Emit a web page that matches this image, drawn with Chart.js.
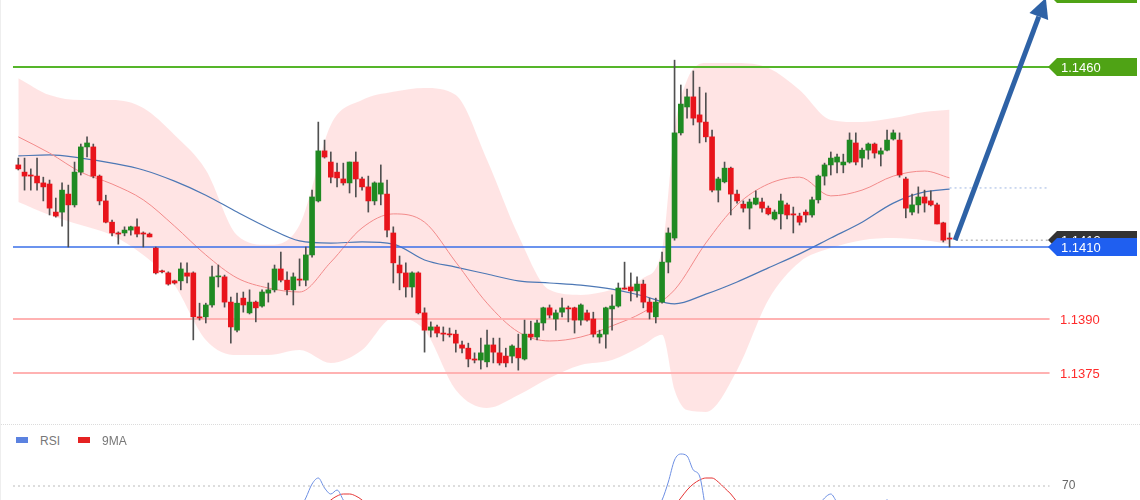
<!DOCTYPE html>
<html>
<head>
<meta charset="utf-8">
<script src="https://cdn.jsdelivr.net/npm/chart.js@4.4.1/dist/chart.umd.min.js"></script>
<style>
  html, body { margin: 0; padding: 0; background: #fff; }
  #wrap { position: relative; width: 1140px; height: 500px; overflow: hidden; font-family: "Liberation Sans", Arial, sans-serif; }
  #mainBox { position: absolute; left: 0; top: 0; width: 1140px; height: 425px; }
  #rsiBox { position: absolute; left: 0; top: 425px; width: 1140px; height: 75px; }
  #sep { position: absolute; left: 0; top: 424px; width: 1140px; border-top: 1px dotted #dcdcdc; }
  #leftEdge { position: absolute; left: 0; top: 0; width: 1px; height: 500px; background: #eeeeee; }
  .legend { position: absolute; top: 434px; font-size: 12px; color: #777; line-height: 14px; }
  .legend i { display: inline-block; width: 12px; height: 6px; margin-right: 12px; vertical-align: 2px; }
</style>
</head>
<body>
<div id="wrap">
  <div id="mainBox"><canvas id="mainChart"></canvas></div>
  <div id="sep"></div>
  <div id="leftEdge"></div>
  <div class="legend" style="left:16px"><i style="background:#5b82e0"></i>RSI</div>
  <div class="legend" style="left:78px"><i style="background:#e52222"></i>9MA</div>
  <div id="rsiBox"><canvas id="rsiChart"></canvas></div>
</div>
<script>
// === EURUSD 走勢圖 (K 線 + 布林通道 + RSI) ===

// K 線資料（共 150 根）
const OPEN = [
  1.14328,1.14308,1.14300,1.14297,1.14278,1.14275,1.14197,1.14197,1.14247,1.14217,
  1.14308,1.14378,1.14378,1.14297,1.14228,1.14169,1.14139,1.14139,1.14147,1.14156,
  1.14139,1.14136,1.14097,1.14033,1.14028,1.14006,1.14006,1.14028,1.14028,1.13906,
  1.13906,1.13939,1.14017,1.14017,1.13947,1.13869,1.13958,1.13917,1.13947,1.13936,
  1.13972,1.13981,1.14039,1.14008,1.13981,1.14011,1.14008,1.14078,1.14228,1.14367,
  1.14336,1.14308,1.14289,1.14278,1.14336,1.14289,1.14267,1.14228,1.14247,1.14247,
  1.14139,1.14050,1.14028,1.13989,1.14028,1.13917,1.13869,1.13878,1.13861,1.13858,
  1.13858,1.13828,1.13819,1.13789,1.13786,1.13781,1.13828,1.13806,1.13797,1.13797,
  1.13819,1.13789,1.13858,1.13850,1.13889,1.13931,1.13900,1.13919,1.13931,1.13931,
  1.13897,1.13917,1.13900,1.13850,1.13858,1.13928,1.13936,1.13986,1.13989,1.13978,
  1.13997,1.13947,1.13906,1.13947,1.14058,1.14125,1.14417,1.14489,1.14517,1.14467,
  1.14447,1.14406,1.14258,1.14281,1.14319,1.14247,1.14219,1.14208,1.14219,1.14225,
  1.14208,1.14178,1.14192,1.14217,1.14192,1.14186,1.14197,1.14189,1.14231,1.14297,
  1.14328,1.14336,1.14328,1.14336,1.14389,1.14347,1.14369,1.14386,1.14358,1.14369,
  1.14400,1.14397,1.14289,1.14197,1.14217,1.14239,1.14228,1.14217,1.14167,1.14125
];
const HIGH = [
  1.14347,1.14347,1.14317,1.14347,1.14294,1.14286,1.14236,1.14278,1.14272,1.14336,
  1.14386,1.14406,1.14386,1.14300,1.14244,1.14175,1.14142,1.14156,1.14158,1.14178,
  1.14142,1.14139,1.14100,1.14036,1.14031,1.14008,1.14056,1.14056,1.14031,1.13944,
  1.13944,1.14047,1.14050,1.14022,1.13961,1.13972,1.13975,1.13981,1.13950,1.13981,
  1.14000,1.14050,1.14086,1.14031,1.14028,1.14067,1.14100,1.14258,1.14447,1.14397,
  1.14364,1.14333,1.14333,1.14336,1.14364,1.14294,1.14297,1.14281,1.14328,1.14286,
  1.14156,1.14075,1.14056,1.14031,1.14031,1.13931,1.13892,1.13883,1.13878,1.13875,
  1.13869,1.13839,1.13833,1.13806,1.13847,1.13869,1.13847,1.13847,1.13819,1.13828,
  1.13858,1.13897,1.13894,1.13897,1.13933,1.13939,1.13925,1.13958,1.13936,1.13933,
  1.13942,1.13925,1.13919,1.13869,1.13933,1.13967,1.14000,1.14058,1.14028,1.14017,
  1.14008,1.13958,1.13958,1.14086,1.14153,1.14619,1.14550,1.14539,1.14589,1.14544,
  1.14528,1.14425,1.14294,1.14336,1.14322,1.14258,1.14228,1.14233,1.14256,1.14236,
  1.14214,1.14203,1.14247,1.14222,1.14211,1.14194,1.14203,1.14239,1.14300,1.14333,
  1.14364,1.14358,1.14358,1.14417,1.14417,1.14375,1.14389,1.14389,1.14375,1.14425,
  1.14425,1.14417,1.14294,1.14247,1.14267,1.14258,1.14256,1.14222,1.14169,1.14139
];
const LOW = [
  1.14314,1.14258,1.14258,1.14258,1.14228,1.14189,1.14183,1.14158,1.14100,1.14211,
  1.14300,1.14350,1.14292,1.14217,1.14167,1.14131,1.14108,1.14131,1.14133,1.14128,
  1.14100,1.14128,1.14025,1.14028,1.13994,1.13997,1.13981,1.14000,1.13842,1.13897,
  1.13889,1.13933,1.13989,1.13933,1.13833,1.13864,1.13919,1.13914,1.13892,1.13933,
  1.13947,1.13975,1.14003,1.13967,1.13939,1.13992,1.13992,1.14072,1.14225,1.14347,
  1.14278,1.14267,1.14272,1.14250,1.14239,1.14258,1.14197,1.14217,1.14217,1.14128,
  1.14000,1.13981,1.13961,1.13961,1.13914,1.13808,1.13850,1.13850,1.13839,1.13850,
  1.13808,1.13806,1.13767,1.13778,1.13761,1.13767,1.13778,1.13772,1.13767,1.13778,
  1.13758,1.13786,1.13842,1.13842,1.13869,1.13903,1.13869,1.13906,1.13892,1.13861,
  1.13883,1.13894,1.13850,1.13833,1.13819,1.13869,1.13933,1.13983,1.13950,1.13961,
  1.13931,1.13900,1.13889,1.13944,1.14028,1.14119,1.14411,1.14458,1.14439,1.14389,
  1.14392,1.14253,1.14225,1.14278,1.14189,1.14222,1.14197,1.14150,1.14217,1.14197,
  1.14189,1.14175,1.14150,1.14178,1.14139,1.14161,1.14169,1.14183,1.14222,1.14272,
  1.14300,1.14306,1.14306,1.14333,1.14328,1.14322,1.14344,1.14347,1.14325,1.14367,
  1.14397,1.14294,1.14181,1.14189,1.14194,1.14197,1.14214,1.14164,1.14114,1.14100
];
const CLOSE = [
  1.14317,1.14297,1.14297,1.14278,1.14267,1.14208,1.14186,1.14258,1.14217,1.14308,
  1.14378,1.14389,1.14297,1.14228,1.14169,1.14139,1.14136,1.14147,1.14156,1.14136,
  1.14136,1.14128,1.14028,1.14031,1.13997,1.14000,1.14039,1.14019,1.13906,1.13903,
  1.13939,1.14017,1.14019,1.13947,1.13878,1.13944,1.13939,1.13947,1.13931,1.13975,
  1.13981,1.14039,1.14008,1.13981,1.14017,1.14008,1.14078,1.14239,1.14367,1.14350,
  1.14294,1.14292,1.14278,1.14336,1.14289,1.14267,1.14228,1.14278,1.14278,1.14147,
  1.14056,1.14028,1.13989,1.14028,1.13917,1.13869,1.13878,1.13861,1.13858,1.13856,
  1.13833,1.13819,1.13789,1.13786,1.13806,1.13828,1.13808,1.13778,1.13778,1.13825,
  1.13792,1.13858,1.13850,1.13889,1.13931,1.13911,1.13917,1.13931,1.13928,1.13897,
  1.13939,1.13897,1.13858,1.13858,1.13931,1.13936,1.13986,1.13983,1.13978,1.13997,
  1.13947,1.13919,1.13947,1.14058,1.14139,1.14417,1.14497,1.14517,1.14458,1.14447,
  1.14406,1.14258,1.14289,1.14319,1.14247,1.14228,1.14208,1.14225,1.14236,1.14208,
  1.14192,1.14197,1.14228,1.14189,1.14189,1.14169,1.14189,1.14231,1.14297,1.14328,
  1.14347,1.14350,1.14336,1.14397,1.14336,1.14369,1.14386,1.14361,1.14367,1.14397,
  1.14417,1.14300,1.14208,1.14217,1.14239,1.14222,1.14217,1.14164,1.14119,1.14122
];

// 均線（從圖上讀取的取樣點，x = 第幾根 K 線）
const MA_X = [1,6,11,16,21,26,31,36,41,46,51,56,61,66,71,76,81,86,91,96,101,106,111,116,121,126,131,136,141,146,150];
const MA_FAST = [
  1.14406,1.14361,1.14308,1.14275,1.14231,1.14158,1.14078,1.14014,1.13986,1.13975,
  1.14058,1.14153,1.14192,1.14169,1.14058,1.13944,1.13864,1.13839,1.13850,1.13881,
  1.13919,1.13981,1.14111,1.14217,1.14275,1.14294,1.14242,1.14258,1.14297,1.14311,1.14292
];
const MA_SLOW = [
  1.14353,1.14356,1.14347,1.14333,1.14314,1.14283,1.14244,1.14197,1.14153,1.14117,
  1.14111,1.14114,1.14108,1.14064,1.14044,1.14025,1.14006,1.14000,1.13994,1.13983,
  1.13964,1.13942,1.13969,1.14003,1.14042,1.14081,1.14125,1.14169,1.14222,1.14253,1.14261
];

// 布林通道上下軌
const BAND_X = [1,6,11,16,21,26,31,36,41,46,51,56,61,66,71,76,81,86,91,96,101,104,106,108,111,116,121,126,131,136,141,146,150];
const BAND_UP = [
  1.14569,1.14522,1.14508,1.14508,1.14486,1.14411,1.14314,1.14133,1.14106,1.14161,
  1.14439,1.14508,1.14531,1.14542,1.14522,1.14342,1.14133,1.13981,1.13967,1.13981,
  1.14014,1.14092,1.14425,1.14564,1.14611,1.14611,1.14597,1.14536,1.14453,1.14447,
  1.14458,1.14475,1.14481
];
const BAND_LO = [
  1.14225,1.14189,1.14161,1.14133,1.14078,1.13994,1.13842,1.13800,1.13800,1.13814,
  1.13778,1.13814,1.13903,1.13869,1.13703,1.13653,1.13689,1.13736,1.13772,1.13786,
  1.13828,1.13856,1.13703,1.13647,1.13642,1.13758,1.13953,1.14058,1.14097,1.14119,
  1.14125,1.14119,1.14108
];

// 支撐 / 壓力價位
const LEVEL_PRICES = [1.1460, 1.1410, 1.1390, 1.1375];
const LEVEL_TEXT = ["1.1460", "1.1410", "1.1390", "1.1375"];
const LEVEL_COLORS = ["#55b52a", "#3a6fe8", "#ffb2b2", "#ffb2b2"];
const LEVEL_X = [0.15, 166];

// 價格標籤（右側）
const TAG_PRICES = [1.14803, 1.1460, 1.14119, 1.1410];
const TAG_TEXT = ["1.1480", "1.1460", "1.1413", "1.1410"];
const TAG_COLORS = ["#4fa315", "#4fa315", "#333333", "#1f5ff0"];

// 最新價虛線 / 慢線延伸虛線
const LAST_X = [151, 165.8];
const LAST_PRICE = 1.14119;
const SLOW_EXT_PRICE = 1.14264;

// 預測箭頭（起點、終點）
const ARROW_X = [150.9, 165.4];
const ARROW_Y = [1.14119, 1.14792];

// RSI 與 9MA（只有高於 63 的部分看得到）
const RSI_X = [46,47,48,49,50,51,52,53,54,  null, 103,104,105,106,107,108,109,110,111, null, 129,130,131,132,133, null, 139,140,141];
const RSI_VAL = [58,64,71,74,69,66,68,63,58, null, 58,63,72,83,86,85,78,75,58, null, 60,64,66,62,60, null, 60,63,60];
const RSI_MA_X = [50,51,52,53,54,55,56,57, null, 106,107,108,109,110,111,112,113,114,115,116,117];
const RSI_MA_VAL = [60,63,65,66,66,65,63,60, null, 60,64,68,71,73,74,74,72,69,66,62,58];
const RSI_LEVEL = 70;

// 座標範圍
const X_MIN = -1.928, X_MAX = 180.47;
const Y_MIN = 1.136056, Y_MAX = 1.147861;

const GREEN = "#1f8a22";
const RED = "#e8141b";

function pts(xs, ys) {
  return xs.map((x, i) => (x === null ? { x: null, y: null } : { x: x, y: ys[i] }));
}

function lineDs(data, color, width, extra) {
  return Object.assign({
    type: "line",
    data: data,
    borderColor: color,
    borderWidth: width,
    pointRadius: 0,
    fill: false,
    tension: 0,
    order: 3
  }, extra || {});
}

// 畫標籤、文字與箭頭
const overlayPlugin = {
  id: "overlay",
  afterDatasetsDraw(chart) {
    const ctx = chart.ctx;
    const xs = chart.scales.x;
    const ys = chart.scales.y;

    // 箭頭
    const x0 = xs.getPixelForValue(ARROW_X[0]), y0 = ys.getPixelForValue(ARROW_Y[0]);
    const x1 = xs.getPixelForValue(ARROW_X[1]), y1 = ys.getPixelForValue(ARROW_Y[1]);
    const ang = Math.atan2(y1 - y0, x1 - x0);
    const headLen = 20, headW = 10;
    const bx = x1 - headLen * Math.cos(ang), by = y1 - headLen * Math.sin(ang);
    ctx.save();
    ctx.strokeStyle = "#2e62a6";
    ctx.fillStyle = "#2e62a6";
    ctx.lineWidth = 5;
    ctx.beginPath();
    ctx.moveTo(x0, y0);
    ctx.lineTo(bx, by);
    ctx.stroke();
    ctx.beginPath();
    ctx.moveTo(x1, y1);
    ctx.lineTo(bx + headW * Math.sin(ang), by - headW * Math.cos(ang));
    ctx.lineTo(bx - headW * Math.sin(ang), by + headW * Math.cos(ang));
    ctx.closePath();
    ctx.fill();

    // 右側價格標籤
    ctx.font = "13px 'Liberation Sans', Arial, sans-serif";
    ctx.textBaseline = "middle";
    TAG_PRICES.forEach((p, i) => {
      const y = Math.round(ys.getPixelForValue(p));
      ctx.fillStyle = TAG_COLORS[i];
      ctx.beginPath();
      ctx.moveTo(1048, y);
      ctx.lineTo(1057, y - 9);
      ctx.lineTo(1137, y - 9);
      ctx.lineTo(1137, y + 9);
      ctx.lineTo(1057, y + 9);
      ctx.closePath();
      ctx.fill();
      ctx.fillStyle = "#ffffff";
      ctx.fillText(TAG_TEXT[i], 1061, y + 1);
    });

    // 紅色支撐價位文字
    ctx.fillStyle = "#ff2b2b";
    [2, 3].forEach((i) => {
      ctx.fillText(LEVEL_TEXT[i], 1060, ys.getPixelForValue(LEVEL_PRICES[i]) + 1);
    });
    ctx.restore();
  }
};

function initMainChart() {
  const idx = OPEN.map((_, i) => i + 1);
  const bodyColors = OPEN.map((o, i) => (CLOSE[i] >= o ? GREEN : RED));

  const datasets = [
    // K 線實體
    {
      type: "bar",
      data: idx.map((x, i) => ({ x: x, y: [OPEN[i], CLOSE[i]] })),
      backgroundColor: bodyColors,
      barThickness: 5,
      minBarLength: 1,
      grouped: false,
      order: 0
    },
    // K 線影線
    {
      type: "bar",
      data: idx.map((x, i) => ({ x: x, y: [LOW[i], HIGH[i]] })),
      backgroundColor: "#505050",
      barThickness: 1,
      grouped: false,
      order: 1
    },
    // 布林通道
    lineDs(pts(BAND_X, BAND_UP), "rgba(0,0,0,0)", 0, {
      fill: "+1",
      backgroundColor: "rgba(255, 170, 170, 0.32)",
      cubicInterpolationMode: "monotone",
      order: 9
    }),
    lineDs(pts(BAND_X, BAND_LO), "rgba(0,0,0,0)", 0, {
      cubicInterpolationMode: "monotone",
      order: 9
    }),
    lineDs(pts(MA_X, MA_FAST), "#f28a8a", 1, { cubicInterpolationMode: "monotone" }),
    lineDs(pts(MA_X, MA_SLOW), "#4d78b5", 1.2, { cubicInterpolationMode: "monotone" }),
    // 延伸虛線
    lineDs(pts(LAST_X, [LAST_PRICE, LAST_PRICE]), "#9a9a9a", 1, { borderDash: [2, 3] }),
    lineDs(pts([150, LAST_X[1]], [SLOW_EXT_PRICE, SLOW_EXT_PRICE]), "#9fb6e2", 1, { borderDash: [2, 3] })
  ];

  // 水平價位線
  LEVEL_PRICES.forEach((p, i) => {
    datasets.push(lineDs(pts(LEVEL_X, [p, p]), LEVEL_COLORS[i], i === 1 ? 1.5 : 2, { order: 2 }));
  });

  new Chart(document.getElementById("mainChart"), {
    type: "bar",
    data: { datasets: datasets },
    options: {
      responsive: true,
      maintainAspectRatio: false,
      animation: false,
      layout: { padding: 0 },
      plugins: { legend: { display: false }, tooltip: { enabled: false } },
      scales: {
        x: { type: "linear", display: false, min: X_MIN, max: X_MAX, offset: false },
        y: { type: "linear", display: false, min: Y_MIN, max: Y_MAX, beginAtZero: false }
      }
    },
    plugins: [overlayPlugin]
  });
}

const rsiTextPlugin = {
  id: "rsiText",
  afterDatasetsDraw(chart) {
    const ctx = chart.ctx;
    ctx.save();
    ctx.font = "12px 'Liberation Sans', Arial, sans-serif";
    ctx.fillStyle = "#666";
    ctx.textBaseline = "middle";
    ctx.fillText(String(RSI_LEVEL), 1062, chart.scales.y.getPixelForValue(RSI_LEVEL));
    ctx.restore();
  }
};

function initRsiChart() {
  new Chart(document.getElementById("rsiChart"), {
    type: "line",
    data: {
      datasets: [
        lineDs(pts(LEVEL_X, [RSI_LEVEL, RSI_LEVEL]), "#bbbbbb", 1, { borderDash: [2, 3] }),
        lineDs(pts(RSI_X, RSI_VAL), "#6d8fe3", 1, { spanGaps: false, cubicInterpolationMode: "monotone" }),
        lineDs(pts(RSI_MA_X, RSI_MA_VAL), "#e53535", 1, { spanGaps: false, cubicInterpolationMode: "monotone" })
      ]
    },
    options: {
      responsive: true,
      maintainAspectRatio: false,
      animation: false,
      layout: { padding: 0 },
      plugins: { legend: { display: false }, tooltip: { enabled: false } },
      scales: {
        x: { type: "linear", display: false, min: X_MIN, max: X_MAX },
        y: { type: "linear", display: false, min: 63, max: 100.5 }
      }
    },
    plugins: [rsiTextPlugin]
  });
}

document.addEventListener("DOMContentLoaded", () => {
  initMainChart();
  initRsiChart();
});
</script>
</body>
</html>
